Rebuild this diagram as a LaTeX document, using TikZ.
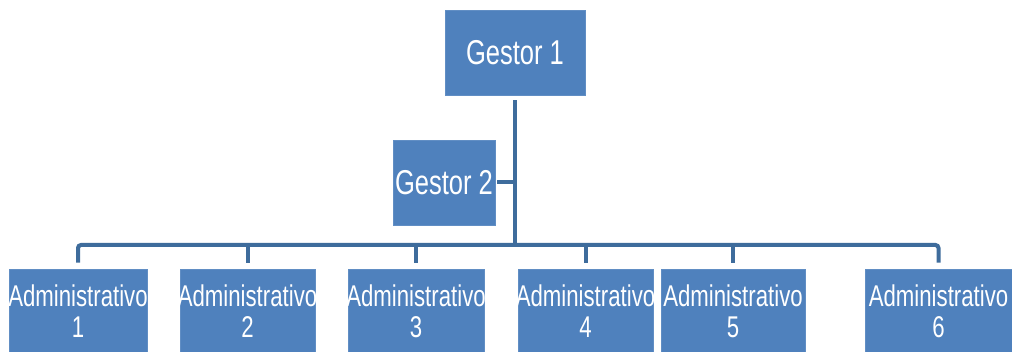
\documentclass[tikz,border=0pt]{standalone}
\usepackage{fontspec}
\setmainfont{Liberation Sans}[FakeStretch=0.74]
\definecolor{boxblue}{RGB}{79,129,189}
\definecolor{lineblue}{RGB}{62,108,156}
\begin{document}
\begin{tikzpicture}[x=1pt,y=-1pt,
  box/.style={rectangle, fill=boxblue, draw=boxblue!90!white, line width=0.6pt, inner sep=0pt, text=white, align=center},
  gestor/.style={box, minimum height=85pt, font=\fontsize{34.5}{40}\selectfont},
  admin/.style={box, minimum height=84pt, font=\fontsize{30}{31.3}\selectfont},
  conn/.style={draw=lineblue, line width=4pt}]
\clip (0,0) rectangle (1012,352);
\fill[white] (0,0) rectangle (1012,352);
\node[gestor, minimum width=140pt] (g1) at (515,52.5) {Gestor 1};
\node[gestor, minimum width=102pt] (g2) at (444,182.5) {\makebox[0pt]{Gestor 2}};
\node[admin, minimum width=138pt] (a1) at (78,311) {\makebox[0pt]{Administrativo}\\\makebox[0pt]{1}};
\node[admin, minimum width=135pt] (a2) at (247.5,311) {\makebox[0pt]{Administrativo}\\\makebox[0pt]{2}};
\node[admin, minimum width=136pt] (a3) at (416,311) {\makebox[0pt]{Administrativo}\\\makebox[0pt]{3}};
\node[admin, minimum width=135pt] (a4) at (585.5,311) {\makebox[0pt]{Administrativo}\\\makebox[0pt]{4}};
\node[admin, minimum width=144pt] (a5) at (733,311) {\makebox[0pt]{Administrativo}\\\makebox[0pt]{5}};
\node[admin, minimum width=147pt] (a6) at (938.5,311) {\makebox[0pt]{Administrativo}\\\makebox[0pt]{6}};
\coordinate (bus) at (515,245);
\draw[conn, rounded corners=3pt, shorten <=6pt, shorten >=6pt] (a1.north) |- (bus) -| (a6.north);
\foreach \n in {a2,a3,a4,a5}
  \draw[conn, shorten >=6pt] (\n.north |- bus) -- (\n.north);
\draw[conn, shorten <=5pt] (g1.south) -- (bus);
\draw[conn, shorten <=2pt] (g2.east) -- (g2.east -| bus);
\end{tikzpicture}
\end{document}
